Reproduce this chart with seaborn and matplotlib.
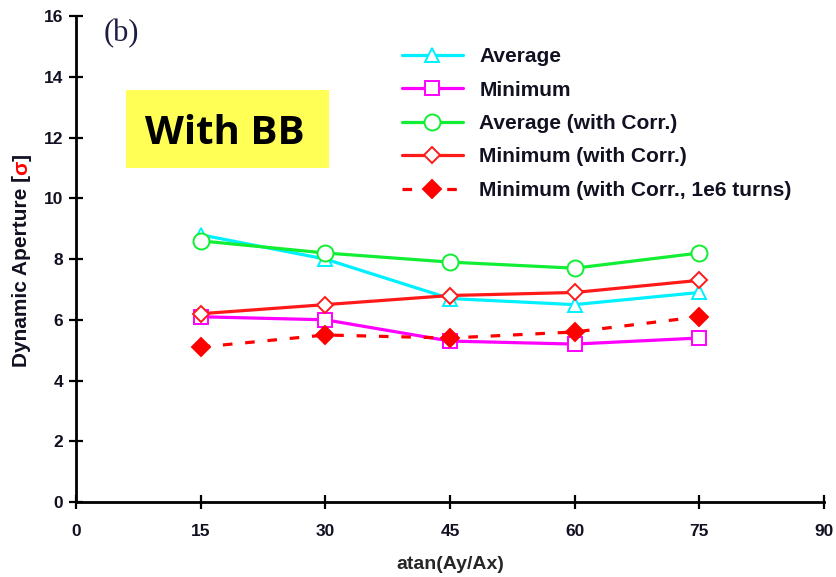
import matplotlib
matplotlib.use("Agg")
import matplotlib.pyplot as plt
import seaborn as sns
import pandas as pd
from matplotlib.patches import Rectangle

# Scan angle atan(Ay/Ax) in degrees
angles = [15, 30, 45, 60, 75]

# Dynamic aperture in units of sigma
avg = [8.8, 8.0, 6.7, 6.5, 6.9]
minimum = [6.1, 6.0, 5.3, 5.2, 5.4]
avg_corr = [8.6, 8.2, 7.9, 7.7, 8.2]
min_corr = [6.2, 6.5, 6.8, 6.9, 7.3]
min_corr_1e6 = [5.1, 5.5, 5.4, 5.6, 6.1]

series_names = [
    "Average",
    "Minimum",
    "Average (with Corr.)",
    "Minimum (with Corr.)",
    "Minimum (with Corr., 1e6 turns)",
]
series_values = [avg, minimum, avg_corr, min_corr, min_corr_1e6]

x_ticks = [0, 15, 30, 45, 60, 75, 90]
y_ticks = [0, 2, 4, 6, 8, 10, 12, 14, 16]

sns.set_theme(style="white")
plt.rcParams["font.family"] = ["Liberation Sans", "DejaVu Sans"]

fig = plt.figure(figsize=(8.36, 5.77), dpi=100)
ax = fig.add_axes([0.0909, 0.130, 0.8947, 0.842])

styles = [
    dict(color="#00f0ff", marker="^", mfc="white", ls="-"),
    dict(color="#ff00ff", marker="s", mfc="white", ls="-"),
    dict(color="#11ee33", marker="o", mfc="white", ls="-"),
    dict(color="#ff1a1a", marker="D", mfc="white", ls="-"),
    dict(color="#ff0000", marker="D", mfc="#ff0000", ls=(0, (3, 4))),
]
sizes = [10, 10, 11.5, 8.5, 9]

for name, vals, st, ms in zip(series_names, series_values, styles, sizes):
    df = pd.DataFrame({"angle": angles, "da": vals})
    sns.lineplot(
        data=df, x="angle", y="da", ax=ax, label=name,
        color=st["color"], linewidth=2.3, linestyle=st["ls"],
        marker=st["marker"], markersize=ms,
        markerfacecolor=st["mfc"], markeredgecolor=st["color"],
        markeredgewidth=1.4,
    )

ax.set_xlim(0, 90)
ax.set_ylim(0, 16)
ax.set_xticks(x_ticks)
ax.set_yticks(y_ticks)
for s in ["top", "right"]:
    ax.spines[s].set_visible(False)
for s in ["left", "bottom"]:
    ax.spines[s].set_color("black")
    ax.spines[s].set_linewidth(2.0)
ax.tick_params(axis="both", direction="inout", length=10, width=1.6,
               colors="black", labelsize=12.5, bottom=True, left=True)
ax.tick_params(axis="x", pad=11)
ax.tick_params(axis="y", pad=4)
for lbl in ax.get_xticklabels() + ax.get_yticklabels():
    lbl.set_fontweight("bold")
    lbl.set_color("#111122")
ax.set_xlabel("atan(Ay/Ax)", fontsize=14, fontweight="bold", labelpad=12)
ax.set_ylabel("")
ax.grid(False)

leg = ax.legend(
    loc="upper left", bbox_to_anchor=(0.481, 0.918), bbox_transform=fig.transFigure,
    frameon=False, handlelength=2.9, labelspacing=0.69, handletextpad=0.8,
    borderpad=0, borderaxespad=0,
    prop=dict(family="Liberation Sans", weight="bold", size=15),
)
for t in leg.get_texts():
    t.set_color("#111122")

# y-axis label with the sigma in red
fig.canvas.draw()
renderer = fig.canvas.get_renderer()
ylabel_parts = [("Dynamic Aperture [", "#111122"), ("σ", "red"), ("]", "#111122")]
y0 = 1 - 367 / 577
for txt, col in ylabel_parts:
    t = fig.text(0.026, y0, txt, rotation=90, ha="center", va="bottom",
                 fontsize=15, fontweight="bold", color=col)
    bb = t.get_window_extent(renderer)
    y0 += bb.height / fig.bbox.height

# panel tag
fig.text(104 / 836, 1 - 34 / 577, "(b)", family="Liberation Serif", fontsize=22,
         color="#1c1c44", ha="left", va="center")

# highlighted annotation box
fig.patches.append(Rectangle((126 / 836, 1 - 168 / 577), 203 / 836, 78 / 577,
                             transform=fig.transFigure, facecolor="#ffff55",
                             edgecolor="none", zorder=0))
fig.text(225 / 836, 1 - 129 / 577, "With BB", family="Open Sans", fontweight="bold",
         fontsize=29, color="black", ha="center", va="center_baseline")

fig.savefig("out.png", dpi=100)
